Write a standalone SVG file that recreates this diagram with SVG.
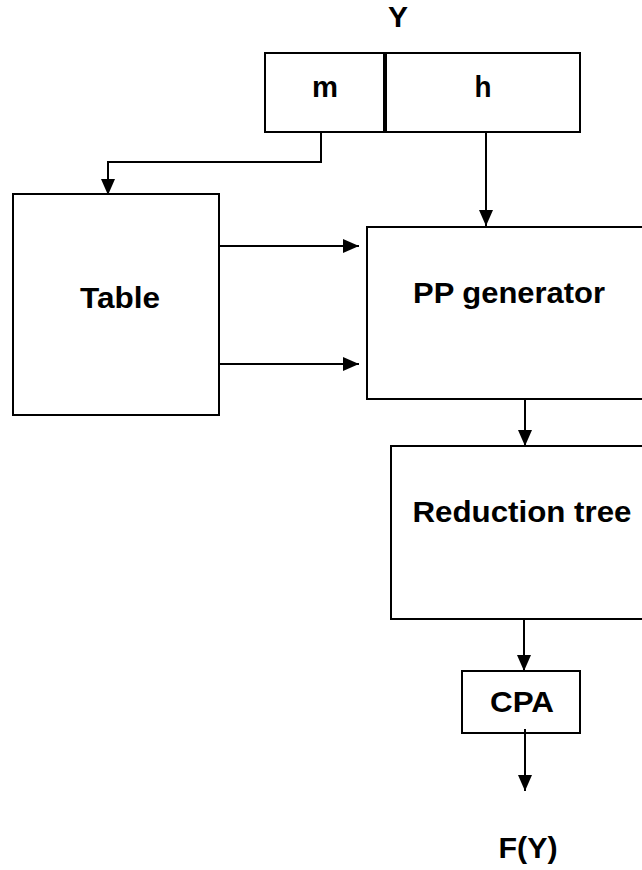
<svg xmlns="http://www.w3.org/2000/svg" width="642" height="870" viewBox="0 0 642 870">
  <defs>
    <marker id="arrow" markerUnits="userSpaceOnUse" markerWidth="16" markerHeight="14" refX="16" refY="7" orient="auto">
      <path d="M0,0 L16,7 L0,14 Z" fill="#000"/>
    </marker>
    <style>
      .box { fill: #fff; stroke: #000; stroke-width: 2; }
      .wire { fill: none; stroke: #000; stroke-width: 2; marker-end: url(#arrow); }
      .lbl { font-family: "Liberation Sans", Arial, sans-serif; font-weight: bold; font-size: 30px; fill: #000; text-anchor: middle; }
    </style>
  </defs>
  <rect width="642" height="870" fill="#fff"/>

  <!-- input word Y split into fields m and h -->
  <g id="label-y">
    <text class="lbl" x="398" y="27" textLength="20" lengthAdjust="spacingAndGlyphs">Y</text>
  </g>
  <g id="field-m">
    <rect class="box" x="265" y="53" width="119" height="79"/>
    <text class="lbl" x="325" y="97" textLength="26" lengthAdjust="spacingAndGlyphs">m</text>
  </g>
  <g id="field-h">
    <rect class="box" x="386" y="53" width="194" height="79"/>
    <text class="lbl" x="483" y="97" textLength="17" lengthAdjust="spacingAndGlyphs">h</text>
  </g>

  <g id="table">
    <rect class="box" x="13" y="194" width="206" height="221"/>
    <text class="lbl" x="120" y="308" textLength="80" lengthAdjust="spacingAndGlyphs">Table</text>
  </g>

  <g id="pp-generator">
    <rect class="box" x="367" y="227" width="300" height="172"/>
    <text class="lbl" x="509" y="303" textLength="192" lengthAdjust="spacingAndGlyphs">PP generator</text>
  </g>

  <g id="reduction-tree">
    <rect class="box" x="391" y="446" width="280" height="173"/>
    <text class="lbl" x="522" y="522" textLength="219" lengthAdjust="spacingAndGlyphs">Reduction tree</text>
  </g>

  <g id="cpa">
    <rect class="box" x="462" y="671" width="118" height="62"/>
    <text class="lbl" x="522" y="712" textLength="64" lengthAdjust="spacingAndGlyphs">CPA</text>
  </g>

  <g id="output-fy">
    <text class="lbl" x="528" y="858" textLength="59" lengthAdjust="spacingAndGlyphs">F(Y)</text>
  </g>

  <g id="connectors">
    <path class="wire" d="M321,132 V162 H108 V195"/>
    <path class="wire" d="M486,132 V226"/>
    <path class="wire" d="M219,246 H359"/>
    <path class="wire" d="M219,364 H359"/>
    <path class="wire" d="M525,399 V446"/>
    <path class="wire" d="M524,619 V671"/>
    <path class="wire" d="M525,729 V791"/>
  </g>
</svg>
